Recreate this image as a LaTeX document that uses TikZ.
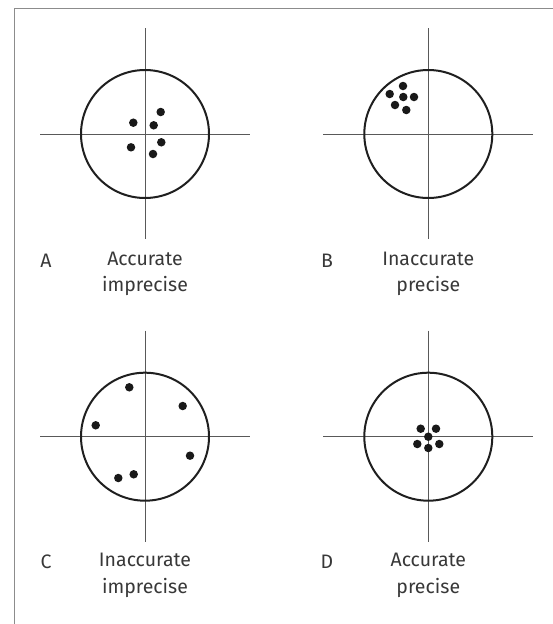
\documentclass[tikz,border=0pt]{standalone}
\usepackage{fontspec}
\setmainfont{Fira Sans}
\begin{document}
\begin{tikzpicture}[x=1pt,y=-1pt,
  frame/.style={draw=black!45,line width=1.5pt},
  cross/.style={draw=black!65,line width=1pt},
  ring/.style={draw=black!88,line width=2pt},
  shot/.style={circle,fill=black!90,inner sep=0pt,minimum size=8.5pt},
  lbl/.style={font=\fontsize{19.5}{26.5}\selectfont,text=black!78,align=center,inner sep=0pt},
  letter/.style={font=\fontsize{19.5}{26.5}\selectfont,text=black!78,inner sep=0pt}]
\useasboundingbox (0,0) rectangle (553,624);
\draw[frame] (14.5,630) -- (14.5,8.5) -- (560,8.5);
% targets
\foreach \n/\cx/\cy in {A/145/134, B/428.3/134, C/145/436.7, D/428.3/436.7}{
  \coordinate (\n c) at (\cx,\cy);
  \draw[cross] ([xshift=-105pt]\n c) -- ([xshift=105pt]\n c);
  \draw[cross] ([yshift=106pt]\n c) -- ([yshift=-105pt]\n c);
  \draw[ring] (\n c) circle[radius=64pt];
}
% A dots
\foreach \i/\x/\y in {1/160.7/112, 2/133.3/122.7, 3/153.7/125.3, 4/131/147.3, 5/161.3/142.3, 6/153/154}
  \node[shot] (a\i) at (\x,\y) {};
% B dots
\foreach \i/\x/\y in {1/403/86, 2/389.7/94, 3/403.3/97, 4/414/97, 5/395/105, 6/406.3/110}
  \node[shot] (b\i) at (\x,\y) {};
% C dots
\foreach \i/\x/\y in {1/129.3/387.3, 2/182.7/406, 3/95.7/425.3, 4/190/455.7, 5/133.7/474.3, 6/118.3/478}
  \node[shot] (c\i) at (\x,\y) {};
% D dots
\foreach \i/\x/\y in {1/420.7/428.7, 2/436/428.7, 3/428.3/436.7, 4/417.3/444, 5/439.3/444, 6/428.3/448}
  \node[shot] (d\i) at (\x,\y) {};
% labels
\node[letter] (la) at (46,260.5) {A};
\node[lbl] (ta) at (145,274) {Accurate\\imprecise};
\node[letter] (lb) at (327,260.5) {B};
\node[lbl] (tb) at (428.3,274) {Inaccurate\\precise};
\node[letter] (lc) at (46,562) {C};
\node[lbl] (tc) at (145,575.5) {Inaccurate\\imprecise};
\node[letter] (ld) at (327,562) {D};
\node[lbl] (td) at (428.3,575.5) {Accurate\\precise};
\end{tikzpicture}
\end{document}
